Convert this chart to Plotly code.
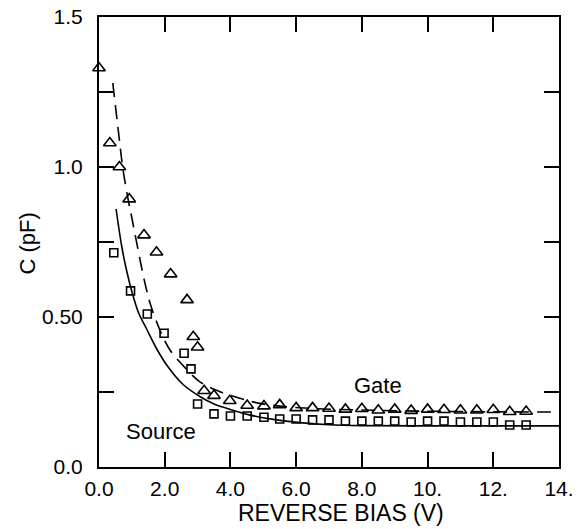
import plotly.graph_objects as go

gate_v = [0.0, 0.33, 0.62, 0.92, 1.37, 1.75, 2.18, 2.68, 2.87, 3.0, 3.2, 3.5, 3.98, 4.51, 5.02, 5.5,
          6.0, 6.5, 7.0, 7.5, 8.0, 8.5, 9.0, 9.5, 10.0, 10.5, 11.0, 11.5, 12.0, 12.5, 13.0]
gate_c = [1.33, 1.08, 1.0, 0.893, 0.773, 0.716, 0.643, 0.557, 0.434, 0.399, 0.254, 0.238, 0.221, 0.205, 0.203, 0.207,
          0.197, 0.197, 0.195, 0.192, 0.194, 0.189, 0.192, 0.188, 0.192, 0.191, 0.189, 0.189, 0.191, 0.184, 0.185]

source_v = [0.45, 0.96, 1.47, 1.98, 2.59, 2.80, 3.0, 3.5, 4.0, 4.51, 5.02, 5.5, 6.0, 6.5, 7.0, 7.5,
            8.0, 8.5, 9.0, 9.5, 10.0, 10.5, 11.0, 11.5, 12.0, 12.5, 13.0]
source_c = [0.714, 0.587, 0.51, 0.446, 0.379, 0.327, 0.21, 0.177, 0.17, 0.17, 0.166, 0.16, 0.16, 0.157, 0.157, 0.153,
            0.153, 0.153, 0.153, 0.15, 0.153, 0.153, 0.15, 0.15, 0.15, 0.14, 0.14]

# Fitted curves
gate_fit_v = [0.42, 0.6, 0.72, 0.89, 1.0, 1.15, 1.4, 1.6, 1.9, 2.16, 2.56, 3.07, 3.68, 4.29, 4.89, 5.5,
              6.5, 8.0, 10.0, 12.0, 14.0]
gate_fit_c = [1.28, 1.11, 1.0, 0.89, 0.83, 0.746, 0.612, 0.53, 0.445, 0.39, 0.338, 0.284, 0.251, 0.229, 0.212, 0.203,
              0.195, 0.19, 0.186, 0.184, 0.183]

source_fit_v = [0.52, 0.7, 0.85, 1.0, 1.2, 1.45, 1.75, 2.06, 2.56, 3.07, 3.5, 3.9, 4.6, 5.4, 6.2, 7.0,
                8.0, 10.0, 14.0]
source_fit_c = [0.86, 0.73, 0.65, 0.585, 0.515, 0.46, 0.395, 0.34, 0.275, 0.235, 0.21, 0.195, 0.173, 0.157, 0.147, 0.141,
                0.138, 0.137, 0.137]

x_ticks = [0, 2, 4, 6, 8, 10, 12, 14]
x_labels = ["0.0", "2.0", "4.0", "6.0", "8.0", "10.", "12.", "14."]
y_ticks = [0, 0.25, 0.5, 0.75, 1.0, 1.25, 1.5]
y_labels = ["0.0", "", "0.50", "", "1.0", "", "1.5"]

FONT = "Liberation Sans, Arial, Helvetica, sans-serif"

fig = go.Figure()
fig.add_trace(go.Scatter(x=gate_fit_v, y=gate_fit_c, mode="lines", line_shape="spline",
                         line=dict(color="black", width=1.6, dash="14px,8px"), showlegend=False))
fig.add_trace(go.Scatter(x=source_fit_v, y=source_fit_c, mode="lines", line_shape="spline",
                         line=dict(color="black", width=1.6), showlegend=False))
fig.add_trace(go.Scatter(x=gate_v, y=gate_c, mode="markers", cliponaxis=False,
                         marker=dict(symbol="triangle-up-open", size=11, color="black", line=dict(width=1.6)),
                         showlegend=False))
fig.add_trace(go.Scatter(x=source_v, y=source_c, mode="markers", cliponaxis=False,
                         marker=dict(symbol="square-open", size=8, color="black", line=dict(width=1.6)),
                         showlegend=False))

fig.add_annotation(x=8.48, y=0.273, xref="x", yref="y", text="Gate", showarrow=False,
                   font=dict(family=FONT, size=22, color="black"))
fig.add_annotation(x=1.9, y=0.118, xref="x", yref="y", text="Source", showarrow=False,
                   font=dict(family=FONT, size=22, color="black"))
fig.add_annotation(x=0.527, y=-0.102, xref="paper", yref="paper", yanchor="middle",
                   text="REVERSE BIAS (V)", showarrow=False,
                   font=dict(family=FONT, size=23, color="black"))
fig.add_annotation(x=-0.155, y=0.496, xref="paper", yref="paper", xanchor="center", yanchor="middle",
                   text="C (pF)", textangle=-90, showarrow=False,
                   font=dict(family=FONT, size=22, color="black"))

axis_common = dict(showgrid=False, zeroline=False, showline=True, linecolor="black", linewidth=2,
                   mirror="ticks", ticks="inside", ticklen=15, tickwidth=1.6, tickcolor="black",
                   tickfont=dict(family=FONT, size=21, color="black"))
fig.update_xaxes(range=[0, 14], tickmode="array", tickvals=x_ticks, ticktext=x_labels,
                 ticklabelstandoff=2, **axis_common)
fig.update_yaxes(range=[0, 1.5], tickmode="array", tickvals=y_ticks, ticktext=y_labels,
                 ticklabelstandoff=10, **axis_common)

fig.update_layout(width=583, height=529, margin=dict(l=99, r=24, t=17, b=62, autoexpand=False),
                  plot_bgcolor="white", paper_bgcolor="white",
                  font=dict(family=FONT, color="black"))

fig.write_html("out.html")
